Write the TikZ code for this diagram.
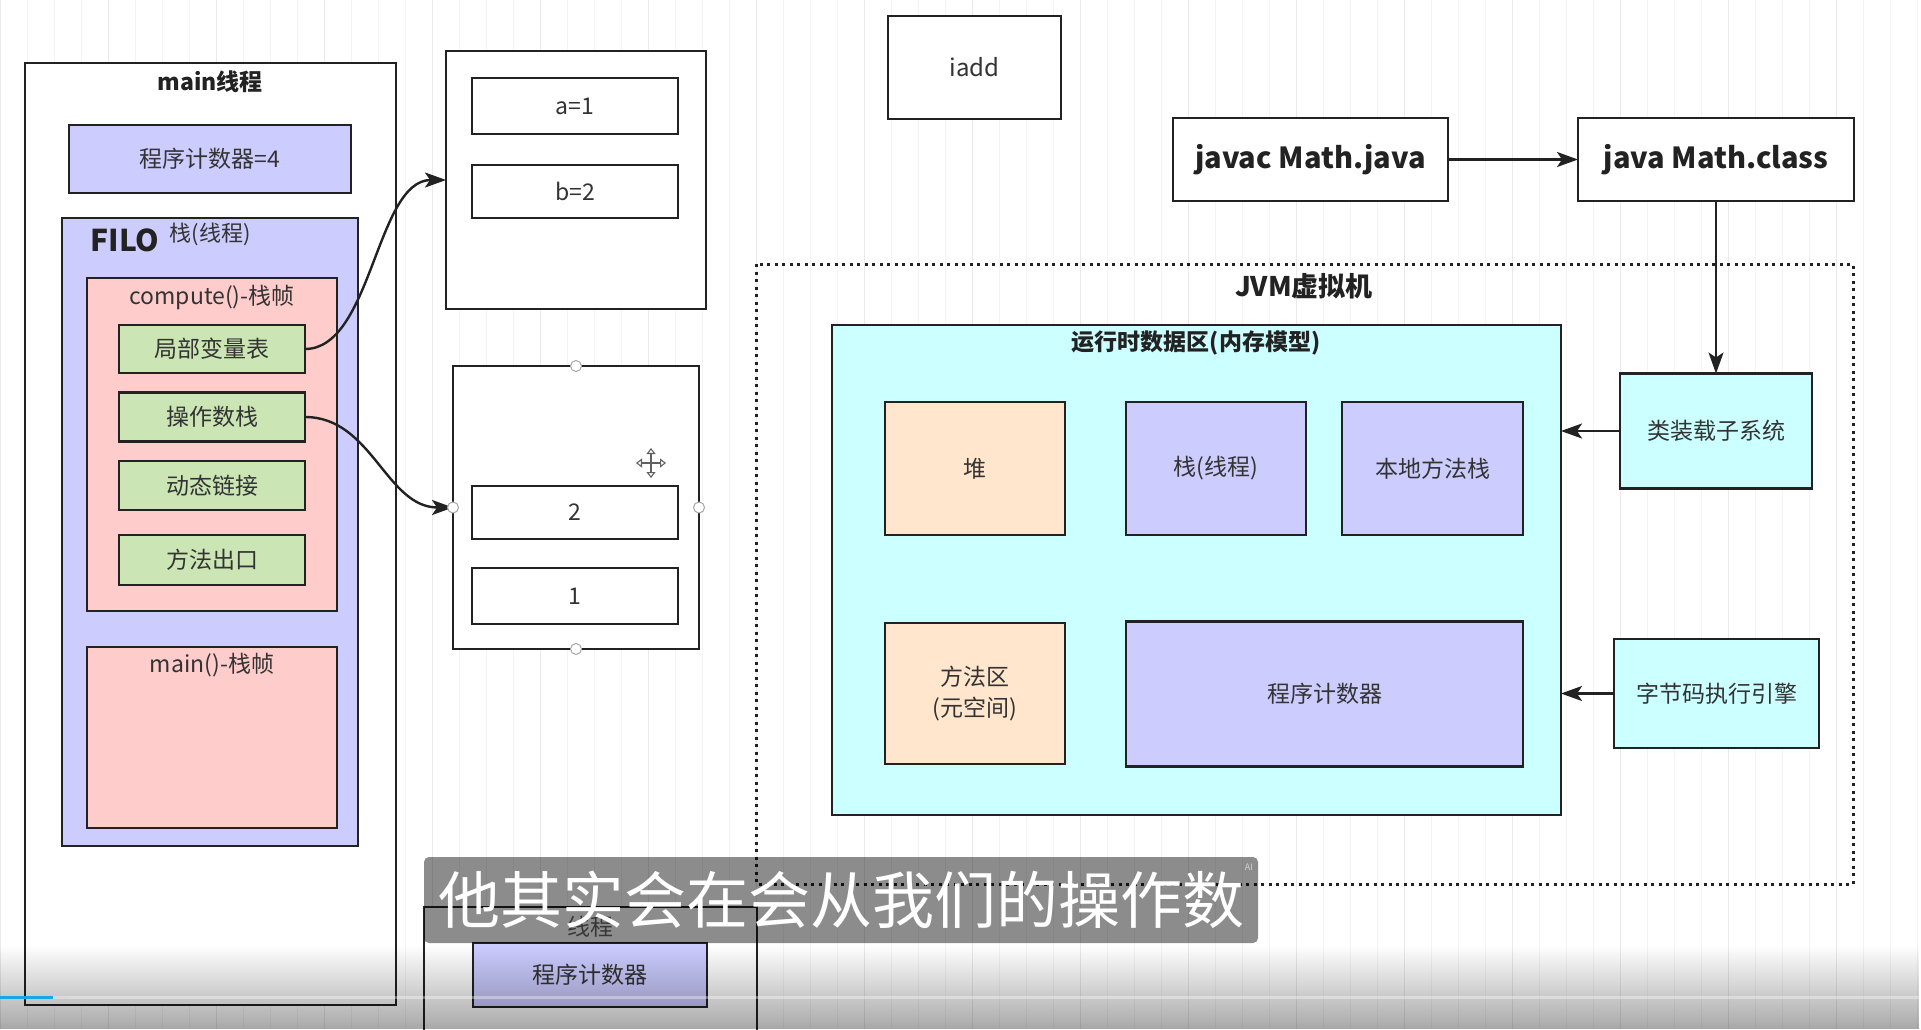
\documentclass[tikz,border=0pt]{standalone}
\usepackage{fontspec}
\setmainfont{Noto Sans CJK SC}
\usetikzlibrary{arrows.meta,fadings}

\definecolor{lav}{HTML}{CCCCFF}
\definecolor{pinkf}{HTML}{FFCCCC}
\definecolor{greenf}{HTML}{CBE6B4}
\definecolor{peach}{HTML}{FFE6CC}
\definecolor{cyanf}{HTML}{CCFFFF}
\definecolor{ink}{HTML}{222222}
\definecolor{txt}{HTML}{333333}
\definecolor{gridminor}{HTML}{F4F4F4}
\definecolor{gridmajor}{HTML}{EAEAEA}
\definecolor{barblue}{HTML}{19A6E6}

\newcommand\setfs[1]{\fontsize{#1}{#1}\selectfont}

% darkening towards the lower edge
\tikzfading[name=playershade, top color=transparent!100, bottom color=transparent!0]

\begin{document}
\begin{tikzpicture}[x=1pt,y=-1pt,
  box/.style={draw=ink, line width=2.6pt, inner sep=0pt, outer sep=0pt,
              text=txt, font=\setfs{23}, align=center},
  conn/.style={draw=ink, line width=2.4pt,
               -{Stealth[length=21pt,width=15pt,inset=5pt]}},
  handle/.style={circle, draw=gray!70, fill=white, line width=1pt,
                 minimum size=11pt, inner sep=0pt},
  heading/.style={font=\bfseries\setfs{23}, text=ink, inner sep=0pt},
  label/.style={font=\setfs{23}, text=txt, inner sep=0pt},
]
\useasboundingbox (0,0) rectangle (1921,1029);
\clip (0,0) rectangle (1921,1029);
\fill[white] (0,0) rectangle (1921,1029);

% drawing-board grid
\draw[gridminor, line width=0.8pt, step=27] (0,0) grid (1921,1029);
\draw[gridmajor, line width=1pt, step=108] (0,0) grid (1921,1029);

% ---------------- main thread ----------------
\node[box, fill=white, minimum width=371, minimum height=942] (mainthread) at (210.5,534) {};
\node[heading] (maintitle) at (210,82) {main线程};
\node[box, fill=lav, minimum width=282, minimum height=68] (pcfour) at (210,159) {程序计数器=4};

\node[box, fill=lav, minimum width=296, minimum height=628] (filo) at (210,532) {};
\node[font=\bfseries\setfs{30}, text=ink, inner sep=0pt] (filolbl) at (125,240) {FILO};
\node[label, font=\setfs{22}] (filostack) at (210,234) {栈(线程)};

\node[box, fill=pinkf, minimum width=250, minimum height=333] (compute) at (212,444.5) {};
\node[label] (computetitle) at (212,297) {compute()-栈帧};
\node[box, fill=greenf, minimum width=186, minimum height=48] (lvt) at (212,349) {局部变量表};
\node[box, fill=greenf, minimum width=186, minimum height=49] (ops) at (212,417) {操作数栈};
\node[box, fill=greenf, minimum width=186, minimum height=49] (dyn) at (212,485.5) {动态链接};
\node[box, fill=greenf, minimum width=186, minimum height=50] (ret) at (212,560) {方法出口};

\node[box, fill=pinkf, minimum width=250, minimum height=181] (mainframe) at (212,737.5) {};
\node[label] (mainframetitle) at (212,665) {main()-栈帧};

% ---------------- local variables / operand stack ----------------
\node[box, fill=white, minimum width=260, minimum height=258] (vars) at (576,180) {};
\node[box, fill=white, minimum width=206, minimum height=56] (va) at (575,106) {a=1};
\node[box, fill=white, minimum width=206, minimum height=53] (vb) at (575,191.5) {b=2};

\node[box, fill=white, minimum width=246, minimum height=283] (opbox) at (576,507.5) {};
\node[box, fill=white, minimum width=206, minimum height=53] (otwo) at (575,512.5) {2};
\node[box, fill=white, minimum width=206, minimum height=56] (oone) at (575,596) {1};

\draw[conn] (lvt.east) .. controls (372,349) and (376,180) .. (vars.west);
\draw[conn] (ops.east) .. controls (372,417) and (386,507.5) .. (opbox.west);

\node[handle] (hn) at (opbox.north) {};
\node[handle] (hs) at (opbox.south) {};
\node[handle] (hw) at (opbox.west) {};
\node[handle] (he) at (opbox.east) {};

% move cursor
\coordinate (cursor) at (651,463);
\foreach \dx/\dy in {0/-1,0/1,-1/0,1/0}
  \draw[gray!75!black, line width=1.1pt, -{Triangle[open,length=6pt,width=9pt]}]
    (cursor) -- ++({15*\dx},{15*\dy});

% ---------------- instruction ----------------
\node[box, fill=white, minimum width=173, minimum height=103, font=\setfs{24}] (iadd) at (974.5,67.5) {iadd};

% ---------------- compile / run ----------------
\node[box, fill=white, minimum width=275, minimum height=83, font=\bfseries\setfs{29}, text=ink] (javac) at (1310.5,159.5) {javac Math.java};
\node[box, fill=white, minimum width=276, minimum height=83, font=\bfseries\setfs{29}, text=ink] (java) at (1716,159.5) {java Math.class};
\draw[conn] (javac) -- (java);

% ---------------- JVM ----------------
\draw[ink, line width=3pt, dash pattern=on 3pt off 4.5pt] (756,264) rectangle (1853,884);
\node[font=\bfseries\setfs{27}, text=ink, inner sep=0pt] (jvmtitle) at (1304,286) {JVM虚拟机};

\node[box, fill=cyanf, minimum width=729, minimum height=490] (rt) at (1196.5,570) {};
\node[heading] (rttitle) at (1196,343) {运行时数据区(内存模型)};

\node[box, fill=peach, minimum width=180, minimum height=133] (heap) at (975,468.5) {堆};
\node[box, fill=lav, minimum width=180, minimum height=133] (stack) at (1216,468.5) {栈(线程)};
\node[box, fill=lav, minimum width=181, minimum height=133] (native) at (1432.5,468.5) {本地方法栈};
\node[box, fill=peach, minimum width=180, minimum height=141, font=\fontsize{23}{31}\selectfont] (meta) at (975,693.5) {方法区\\(元空间)};
\node[box, fill=lav, minimum width=397, minimum height=145] (pc) at (1324.5,694) {程序计数器};

\node[box, fill=cyanf, minimum width=192, minimum height=115] (loader) at (1716,431) {类装载子系统};
\node[box, fill=cyanf, minimum width=205, minimum height=109] (engine) at (1716.5,693.5) {字节码执行引擎};

\draw[conn, line width=2pt] (java.south) -- (loader.north);
\draw[conn] (loader.west) -- (loader.west -| rt.east);
\draw[conn] (engine.west) -- (engine.west -| rt.east);

% ---------------- second thread (partly below) ----------------
\node[box, fill=white, minimum width=333, minimum height=200, anchor=north west] (thread2) at (424,907) {};
\node[label, text=gray!80!black] (thread2title) at (590,927) {线程};
\node[box, fill=lav, minimum width=234, minimum height=64] (pctwo) at (590,975) {程序计数器};

% ---------------- player overlay ----------------
\fill[black, opacity=0.34, path fading=playershade] (0,945) rectangle (1921,1029);
\node[fill=black, fill opacity=0.45, text opacity=1, text=white, rounded corners=5pt,
      minimum width=834, minimum height=86, inner sep=0pt, font=\setfs{62}] (subtitle) at (841,900) {他其实会在会从我们的操作数};
\node[text=white, opacity=0.6, font=\setfs{9}, inner sep=0pt] (ailabel) at (1249,867) {AI};

\fill[white, opacity=0.35] (0,995.5) rectangle (1921,999);
\fill[gray!30] (53,995.5) rectangle (69,999);
\fill[barblue] (0,995.5) rectangle (53,999);
\end{tikzpicture}
\end{document}
